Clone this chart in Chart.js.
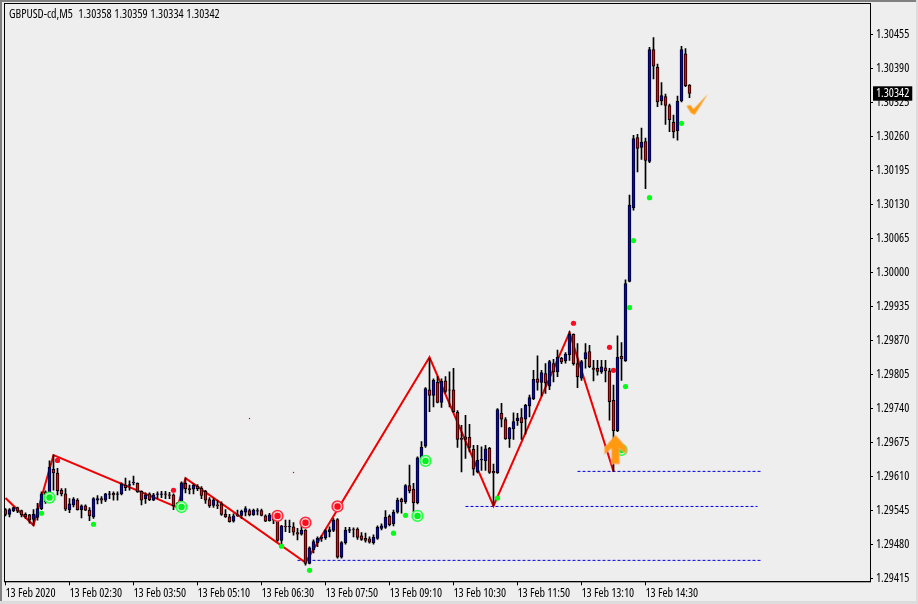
<!DOCTYPE html>
<html>
<head>
<meta charset="utf-8">
<title>GBPUSD-cd,M5</title>
<script src="https://cdn.jsdelivr.net/npm/chart.js@4/dist/chart.umd.min.js"></script>
<style>
    html, body { margin: 0; padding: 0; background: #eeeeee; overflow: hidden; }
    #wrap { position: absolute; left: 0; top: 0; width: 918px; height: 604px; }
    #wrap canvas { position: absolute; left: 0; top: 0; }
    #edgeTop { position: absolute; left: 0; top: 0; width: 918px; height: 2px; background: #808080; }
    #edgeLeft { position: absolute; left: 0; top: 0; width: 2px; height: 604px; background: #808080; }
    #edgeBottom { position: absolute; left: 0; top: 601px; width: 918px; height: 3px; background: #dcdcdc; }
    #edgeRight { position: absolute; left: 916px; top: 0; width: 2px; height: 604px; background: #dcdcdc; }
    #caption { position: absolute; left: 9px; top: 5px; font: condensed 12px "Open Sans", sans-serif; color: #000; white-space: pre; word-spacing: 0.5px; }
</style>
</head>
<body>
<div id="wrap">
    <canvas id="priceChart" width="918" height="604"></canvas>
    <div id="edgeTop"></div><div id="edgeLeft"></div><div id="edgeBottom"></div><div id="edgeRight"></div>
    <div id="caption">GBPUSD-cd,M5  1.30358 1.30359 1.30334 1.30342</div>
</div>
<script>
// Candles, oldest first
const opens = [
    1.29547,1.29538,1.29545,1.29551,1.29545,1.29538,1.29537,1.29528,1.29532,1.29549,
    1.29581,1.29570,1.29624,1.29617,1.29584,1.29577,1.29547,1.29556,1.29565,1.29547,
    1.29554,1.29546,1.29533,1.29565,1.29568,1.29565,1.29576,1.29578,1.29576,1.29577,
    1.29594,1.29593,1.29598,1.29597,1.29582,1.29568,1.29577,1.29565,1.29576,1.29576,
    1.29577,1.29575,1.29575,1.29559,1.29551,1.29597,1.29587,1.29586,1.29592,1.29588,
    1.29582,1.29566,1.29555,1.29556,1.29558,1.29538,1.29533,1.29525,1.29537,1.29536,
    1.29542,1.29545,1.29537,1.29544,1.29545,1.29535,1.29526,1.29537,1.29527,1.29488,
    1.29515,1.29514,1.29514,1.29503,1.29500,1.29508,1.29444,1.29470,1.29484,1.29492,
    1.29493,1.29505,1.29507,1.29528,1.29456,1.29484,1.29507,1.29510,1.29510,1.29497,
    1.29492,1.29491,1.29484,1.29492,1.29511,1.29513,1.29534,1.29520,1.29542,1.29567,
    1.29562,1.29593,1.29586,1.29560,1.29644,1.29668,1.29776,1.29765,1.29790,1.29752,
    1.29793,1.29776,1.29776,1.29733,1.29683,1.29686,1.29685,1.29662,1.29619,1.29642,
    1.29640,1.29664,1.29620,1.29617,1.29731,1.29719,1.29682,1.29701,1.29717,1.29723,
    1.29720,1.29745,1.29759,1.29797,1.29790,1.29807,1.29783,1.29826,1.29810,1.29836,
    1.29831,1.29843,1.29882,1.29826,1.29798,1.29835,1.29849,1.29818,1.29817,1.29810,
    1.29818,1.29812,1.29756,1.29698,1.29840,1.29831,1.29983,1.30124,1.30258,1.30239,
    1.30250,1.30212,1.30426,1.30392,1.30328,1.30336,1.30319,1.30287,1.30271,1.30328,
    1.30418,1.30358
];
const highs = [
    1.29549,1.29549,1.29552,1.29552,1.29546,1.29541,1.29538,1.29547,1.29559,1.29581,
    1.29583,1.29640,1.29651,1.29626,1.29587,1.29587,1.29568,1.29570,1.29568,1.29556,
    1.29556,1.29551,1.29570,1.29574,1.29572,1.29578,1.29582,1.29581,1.29581,1.29598,
    1.29607,1.29602,1.29611,1.29598,1.29583,1.29579,1.29579,1.29578,1.29581,1.29582,
    1.29582,1.29580,1.29577,1.29561,1.29600,1.29607,1.29594,1.29596,1.29595,1.29591,
    1.29584,1.29570,1.29568,1.29565,1.29562,1.29547,1.29538,1.29539,1.29546,1.29546,
    1.29553,1.29548,1.29548,1.29549,1.29548,1.29537,1.29540,1.29541,1.29540,1.29517,
    1.29527,1.29527,1.29522,1.29511,1.29527,1.29509,1.29476,1.29489,1.29495,1.29497,
    1.29509,1.29514,1.29530,1.29530,1.29486,1.29513,1.29513,1.29512,1.29512,1.29503,
    1.29502,1.29495,1.29499,1.29516,1.29520,1.29545,1.29537,1.29546,1.29569,1.29569,
    1.29595,1.29632,1.29597,1.29648,1.29677,1.29780,1.29836,1.29797,1.29801,1.29797,
    1.29801,1.29810,1.29817,1.29736,1.29708,1.29727,1.29710,1.29670,1.29670,1.29667,
    1.29670,1.29666,1.29634,1.29740,1.29750,1.29723,1.29704,1.29732,1.29731,1.29740,
    1.29748,1.29766,1.29813,1.29841,1.29813,1.29826,1.29832,1.29834,1.29852,1.29838,
    1.29847,1.29887,1.29883,1.29864,1.29832,1.29864,1.29861,1.29832,1.29832,1.29832,
    1.29832,1.29817,1.29785,1.29879,1.29866,1.29986,1.30148,1.30262,1.30264,1.30276,
    1.30257,1.30430,1.30449,1.30398,1.30363,1.30341,1.30322,1.30301,1.30337,1.30432,
    1.30428,1.30359
];
const lows = [
    1.29535,1.29533,1.29543,1.29541,1.29533,1.29530,1.29521,1.29517,1.29527,1.29547,
    1.29559,1.29568,1.29584,1.29575,1.29573,1.29545,1.29541,1.29552,1.29546,1.29531,
    1.29545,1.29526,1.29530,1.29558,1.29559,1.29562,1.29568,1.29565,1.29565,1.29575,
    1.29583,1.29584,1.29594,1.29580,1.29556,1.29559,1.29564,1.29564,1.29568,1.29570,
    1.29568,1.29568,1.29547,1.29551,1.29549,1.29579,1.29577,1.29577,1.29583,1.29568,
    1.29559,1.29551,1.29551,1.29549,1.29536,1.29532,1.29523,1.29523,1.29534,1.29530,
    1.29535,1.29535,1.29536,1.29537,1.29535,1.29524,1.29525,1.29520,1.29486,1.29481,
    1.29505,1.29503,1.29498,1.29489,1.29498,1.29441,1.29443,1.29464,1.29476,1.29486,
    1.29490,1.29495,1.29505,1.29454,1.29454,1.29481,1.29503,1.29495,1.29490,1.29488,
    1.29485,1.29483,1.29481,1.29490,1.29508,1.29511,1.29516,1.29516,1.29540,1.29540,
    1.29559,1.29579,1.29543,1.29558,1.29642,1.29666,1.29734,1.29743,1.29751,1.29742,
    1.29770,1.29743,1.29733,1.29666,1.29619,1.29645,1.29657,1.29613,1.29617,1.29622,
    1.29622,1.29616,1.29555,1.29616,1.29705,1.29681,1.29666,1.29681,1.29708,1.29681,
    1.29691,1.29724,1.29757,1.29775,1.29764,1.29769,1.29776,1.29791,1.29801,1.29826,
    1.29827,1.29832,1.29823,1.29780,1.29794,1.29817,1.29818,1.29793,1.29804,1.29807,
    1.29791,1.29718,1.29620,1.29696,1.29794,1.29830,1.29982,1.30119,1.30192,1.30216,
    1.30160,1.30210,1.30370,1.30317,1.30320,1.30283,1.30269,1.30257,1.30253,1.30326,
    1.30355,1.30334
];
const closes = [
    1.29538,1.29547,1.29551,1.29544,1.29537,1.29533,1.29527,1.29538,1.29549,1.29577,
    1.29562,1.29628,1.29617,1.29583,1.29577,1.29548,1.29558,1.29567,1.29547,1.29554,
    1.29546,1.29535,1.29568,1.29568,1.29565,1.29577,1.29577,1.29575,1.29577,1.29596,
    1.29589,1.29595,1.29599,1.29581,1.29565,1.29575,1.29566,1.29575,1.29577,1.29577,
    1.29576,1.29574,1.29554,1.29556,1.29598,1.29587,1.29585,1.29594,1.29587,1.29574,
    1.29565,1.29554,1.29565,1.29554,1.29538,1.29533,1.29524,1.29535,1.29535,1.29544,
    1.29549,1.29537,1.29546,1.29545,1.29536,1.29525,1.29537,1.29527,1.29488,1.29516,
    1.29514,1.29515,1.29504,1.29500,1.29508,1.29444,1.29474,1.29486,1.29492,1.29494,
    1.29507,1.29509,1.29527,1.29456,1.29484,1.29508,1.29509,1.29509,1.29494,1.29490,
    1.29488,1.29485,1.29494,1.29513,1.29516,1.29532,1.29518,1.29542,1.29565,1.29562,
    1.29593,1.29583,1.29560,1.29646,1.29666,1.29778,1.29765,1.29794,1.29752,1.29792,
    1.29773,1.29775,1.29734,1.29681,1.29681,1.29681,1.29666,1.29624,1.29641,1.29643,
    1.29663,1.29618,1.29617,1.29738,1.29720,1.29682,1.29703,1.29715,1.29722,1.29713,
    1.29746,1.29761,1.29796,1.29790,1.29809,1.29789,1.29830,1.29810,1.29838,1.29829,
    1.29844,1.29882,1.29826,1.29801,1.29830,1.29847,1.29820,1.29815,1.29811,1.29820,
    1.29812,1.29753,1.29698,1.29838,1.29835,1.29979,1.30129,1.30256,1.30237,1.30249,
    1.30214,1.30426,1.30394,1.30326,1.30338,1.30319,1.30292,1.30269,1.30327,1.30426,
    1.30357,1.30342
];

// Axis labels
const timeBars = [0, 16, 32, 48, 64, 80, 96, 112, 128, 144, 160];
const timeLabels = ['13 Feb 2020', '13 Feb 02:30', '13 Feb 03:50', '13 Feb 05:10', '13 Feb 06:30', '13 Feb 07:50',
    '13 Feb 09:10', '13 Feb 10:30', '13 Feb 11:50', '13 Feb 13:10', '13 Feb 14:30'];
const priceTicks = [1.29415, 1.29480, 1.29545, 1.29610, 1.29675, 1.29740, 1.29805, 1.29870, 1.29935, 1.30000,
    1.30065, 1.30130, 1.30195, 1.30260, 1.30325, 1.30390, 1.30455];
const lastPrice = 1.30342;

// Indicator overlays
const zigzagBars = [0, 7, 12, 43, 45, 75, 106, 122, 141, 152];
const zigzagPrices = [1.29569, 1.29517, 1.29651, 1.29551, 1.29607, 1.29446, 1.29838, 1.29554, 1.29885, 1.29620];

const greenDotBars = [9, 22, 69, 76, 97, 100, 123, 155, 156, 157, 161, 169];
const greenDotPrices = [1.29540, 1.29519, 1.29477, 1.29431, 1.29502, 1.29536, 1.29569, 1.29782, 1.29933, 1.30061, 1.30143, 1.30285];
const redDotBars = [13, 42, 142, 151, 152];
const redDotPrices = [1.29641, 1.29584, 1.29903, 1.29857, 1.29813];
const tinyDotBars = [61, 72];
const tinyDotPrices = [1.29721, 1.29618];

const greenRingBars = [11, 44, 103, 105, 154];
const greenRingPrices = [1.29570, 1.29552, 1.29535, 1.29640, 1.29661];
const redRingBars = [68, 75, 83];
const redRingPrices = [1.29535, 1.29522, 1.29553];

const levelStarts = [73, 115, 143];
const levelEnds = [189, 188, 189];
const levelPrices = [1.29450, 1.29553, 1.29620];

const arrowBar = 152.5;
const arrowPrice = 1.29662;
const checkBar = 173;
const checkPrice = 1.30321;

const zipPoints = (bars, prices) => bars.map((bar, i) => ({ x: bar, y: prices[i] }));
const barIndexes = opens.map((_, i) => i);

// Little orange glyphs used as point styles
function makeGlyph(size, points, edge) {
    const glyph = document.createElement('canvas');
    glyph.width = size;
    glyph.height = size;
    const g = glyph.getContext('2d');
    g.translate(size / 2, size / 2);
    g.beginPath();
    points.forEach((p, i) => (i ? g.lineTo(p[0], p[1]) : g.moveTo(p[0], p[1])));
    g.closePath();
    g.fillStyle = '#ff9a10';
    g.fill();
    if (edge) {
        g.strokeStyle = edge;
        g.lineWidth = 0.7;
        g.stroke();
    }
    return glyph;
}
const arrowGlyph = makeGlyph(32, [[0, -14.5], [11, -2], [11, 5], [4, -1], [4, 14.5], [-4, 14.5], [-4, -1], [-11, 5], [-11, -2]], '#ffb8a0');
const checkGlyph = makeGlyph(28, [[-11, 1.5], [-7, 0.5], [-4, 4.8], [10.3, -10.5], [-2.7, 10.2], [-6.3, 8.8]]);

function pointSet(order, data, radius, fill, stroke, strokeWidth) {
    return {
        type: 'line',
        order: order,
        data: data,
        showLine: false,
        pointRadius: radius,
        pointBackgroundColor: fill,
        pointBorderColor: stroke || fill,
        pointBorderWidth: strokeWidth || 0
    };
}

const levelSets = levelPrices.map((price, i) => ({
    type: 'line',
    order: 8,
    data: [{ x: levelStarts[i], y: price }, { x: levelEnds[i], y: price }],
    borderColor: '#0000e6',
    borderWidth: 1,
    borderDash: [3, 2],
    pointRadius: 0
}));

const framePlugin = {
    id: 'frame',
    afterDraw(chart) {
        const a = chart.chartArea;
        const c = chart.ctx;
        c.save();
        c.strokeStyle = '#000';
        c.lineWidth = 1;
        c.strokeRect(a.left - 0.5, a.top - 0.5, a.right - a.left + 1, a.bottom - a.top + 1);
        c.restore();
    }
};

const axisFont = { family: '"Open Sans", sans-serif', size: 12, weight: 'condensed' };

// Chart.js reserves room for edge labels, the layout here is fixed
function fixSize(scale, width, height) {
    if (width) scale.width = width;
    if (height) scale.height = height;
    scale.paddingLeft = scale.paddingRight = scale.paddingTop = scale.paddingBottom = 0;
}

new Chart(document.getElementById('priceChart').getContext('2d'), {
    type: 'bar',
    data: {
        datasets: [
            pointSet(1, [{ x: arrowBar, y: arrowPrice }], 16, 'transparent'),
            pointSet(1, [{ x: checkBar, y: checkPrice }], 14, 'transparent'),
            pointSet(2, zipPoints(greenDotBars, greenDotPrices), 2.6, '#00ff10'),
            pointSet(2, zipPoints(redDotBars, redDotPrices), 2.6, '#ff0a1e'),
            pointSet(2, zipPoints(tinyDotBars, tinyDotPrices), 0.7, '#e00000'),
            pointSet(2, zipPoints(greenRingBars, greenRingPrices), 3.2, '#00f020'),
            pointSet(3, zipPoints(greenRingBars, greenRingPrices), 5.4, '#d4f7d4', '#20ff40', 1.5),
            pointSet(2, zipPoints(redRingBars, redRingPrices), 3.2, '#ff0a1e'),
            pointSet(3, zipPoints(redRingBars, redRingPrices), 5.4, '#ffc8c8', '#ff2a3c', 1.5),
            {
                type: 'bar',
                order: 5,
                grouped: false,
                barThickness: 3,
                data: barIndexes.map(i => ({ x: i, y: [opens[i], closes[i]] })),
                backgroundColor: barIndexes.map(i => (closes[i] >= opens[i] ? '#0000ff' : '#ff0000')),
                borderColor: '#000',
                borderWidth: 1,
                borderSkipped: false
            },
            {
                type: 'bar',
                order: 6,
                grouped: false,
                barThickness: 1,
                data: barIndexes.map(i => ({ x: i, y: [lows[i], highs[i]] })),
                backgroundColor: '#000',
                borderWidth: 0
            },
            {
                type: 'line',
                order: 7,
                data: zipPoints(zigzagBars, zigzagPrices),
                borderColor: '#f00000',
                borderWidth: 2,
                tension: 0,
                pointRadius: 0
            },
            ...levelSets
        ]
    },
    options: {
        responsive: false,
        animation: false,
        devicePixelRatio: 1,
        layout: { autoPadding: false, padding: { left: 5, top: 4 } },
        plugins: { legend: { display: false }, tooltip: { enabled: false } },
        scales: {
            x: {
                type: 'linear',
                offset: false,
                min: -0.125,
                max: 216.125,
                grid: { offset: false, drawOnChartArea: false, color: '#000', tickLength: 4 },
                border: { color: '#000' },
                afterBuildTicks(scale) {
                    scale.ticks = timeBars.map(v => ({ value: v }));
                },
                afterFit(scale) {
                    fixSize(scale, 0, 22.7);
                },
                ticks: {
                    align: 'start',
                    autoSkip: false,
                    maxRotation: 0,
                    padding: 1,
                    color: '#000',
                    font: axisFont,
                    callback: value => timeLabels[timeBars.indexOf(value)]
                }
            },
            y: {
                position: 'right',
                min: 1.2941,
                max: 1.30513,
                grid: {
                    drawOnChartArea: false,
                    tickLength: 3,
                    tickColor: ctx => (ctx.tick && ctx.tick.value === lastPrice ? 'transparent' : '#000')
                },
                border: { color: '#000' },
                afterBuildTicks(scale) {
                    scale.ticks = priceTicks.concat(lastPrice).sort((a, b) => a - b).map(v => ({ value: v }));
                },
                afterFit(scale) {
                    fixSize(scale, 48, 0);
                },
                ticks: {
                    autoSkip: false,
                    padding: 3,
                    font: axisFont,
                    color: ctx => (ctx.tick.value === lastPrice ? '#fff' : '#000'),
                    showLabelBackdrop: ctx => ctx.tick.value === lastPrice,
                    backdropColor: '#000',
                    backdropPadding: { left: 3, right: 3, top: 0, bottom: 0 },
                    callback: value => value.toFixed(5)
                }
            }
        }
    },
    plugins: [framePlugin]
});

// Swap the two glyph points over to their canvases
const chart = Chart.getChart('priceChart');
chart.data.datasets[0].pointStyle = arrowGlyph;
chart.data.datasets[1].pointStyle = checkGlyph;
chart.update();
</script>
</body>
</html>
